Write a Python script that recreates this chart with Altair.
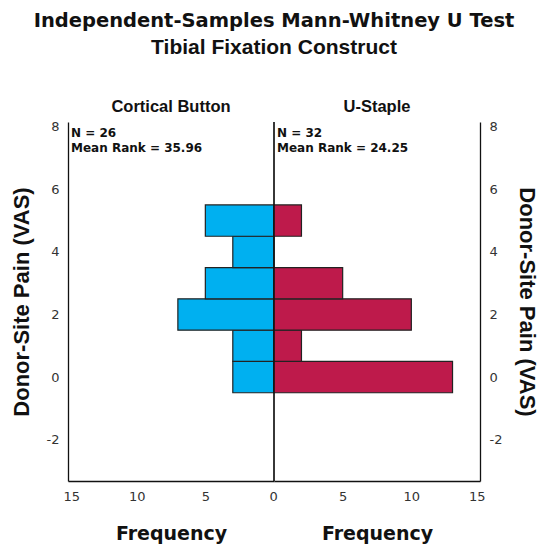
import altair as alt
import pandas as pd

bin_start = [-0.5, 0.5, 1.5, 2.5, 3.5, 4.5]
bin_end = [0.5, 1.5, 2.5, 3.5, 4.5, 5.5]
cortical_counts = [3, 3, 7, 5, 3, 5]
staple_counts = [13, 2, 10, 5, 0, 2]
groups = ["Cortical Button", "U-Staple"]
n_labels = ["N = 26", "N = 32"]
rank_labels = ["Mean Rank = 35.96", "Mean Rank = 24.25"]
colors = ["#00B0F0", "#BE1A4B"]
y_ticks = [-2, 0, 2, 4, 6, 8]
x_ticks = [0, 5, 10, 15]

W, H = 206, 359
Y_DOMAIN = [-3.32, 8.15]


def panel(idx, counts, reverse, orient):
    df = pd.DataFrame({"start": bin_start, "end": bin_end, "count": counts})
    df["zero"] = 0
    df = df[df["count"] > 0]
    xscale = alt.Scale(domain=[0, 15], reverse=reverse, nice=False, zero=True)
    yscale = alt.Scale(domain=Y_DOMAIN, nice=False, zero=False)
    label_expr = "datum.value == 0 ? '' : datum.label" if reverse else "datum.label"
    xaxis = alt.Axis(values=x_ticks, title="Frequency", labelExpr=label_expr,
                     labelFlush=True, labelFlushOffset=5,
                     titleFont="DejaVu Sans", titleFontSize=19, titleFontWeight="bold",
                     titleColor="#111", titlePadding=21, labelPadding=9)
    yaxis = alt.Axis(orient=orient, values=y_ticks, title="Donor-Site Pain (VAS)",
                     labelExpr="datum.value + ''",
                     titleFont="Liberation Sans", titleFontSize=22, titleFontWeight="bold",
                     titleColor="#111", titlePadding=13, labelPadding=9)
    bars = alt.Chart(df).mark_rect(fill=colors[idx], stroke="#222", strokeWidth=1.2).encode(
        x=alt.X("zero:Q", scale=xscale, axis=xaxis),
        x2="count:Q",
        y=alt.Y("start:Q", scale=yscale, axis=yaxis),
        y2="end:Q",
    )
    rule = alt.Chart(pd.DataFrame({"zero": [0]})).mark_rule(color="#111", strokeWidth=1.2).encode(
        x=alt.X("zero:Q", scale=xscale)
    )
    tdf = pd.DataFrame({"t": [n_labels[idx] + "\n" + rank_labels[idx]]})
    text = alt.Chart(tdf).mark_text(
        align="left", baseline="top", lineBreak="\n", lineHeight=14.5,
        font="DejaVu Sans", fontSize=12, fontWeight="bold", color="#111"
    ).encode(
        x=alt.value(3),
        y=alt.value(6),
        text="t:N",
    )
    return alt.layer(bars, rule, text).properties(
        width=W, height=H,
        title=alt.TitleParams(groups[idx], font="Liberation Sans", fontSize=16.5,
                              fontWeight="bold", color="#111", anchor="middle", offset=5),
    )


left = panel(0, cortical_counts, True, "left")
right = panel(1, staple_counts, False, "right")

chart = alt.hconcat(left, right, spacing=0, bounds="flush").properties(
    title=alt.TitleParams(
        text="Independent-Samples Mann-Whitney U Test",
        subtitle="Tibial Fixation Construct",
        font="DejaVu Sans", fontSize=19.5, fontWeight="bold", color="#111",
        subtitleFont="Liberation Sans", subtitleFontSize=21, subtitleFontWeight="bold",
        subtitleColor="#111", subtitlePadding=6, anchor="middle", offset=40,
    ),
    padding={"left": 2, "right": 2, "top": 2, "bottom": 2},
).configure_view(stroke=None).configure_axis(
    grid=False, ticks=False, domainColor="#111", domainWidth=1.3,
    labelFont="DejaVu Sans", labelFontSize=13, labelColor="#333",
)

chart.save("out.html", embed_options={"renderer": "svg", "actions": False})
